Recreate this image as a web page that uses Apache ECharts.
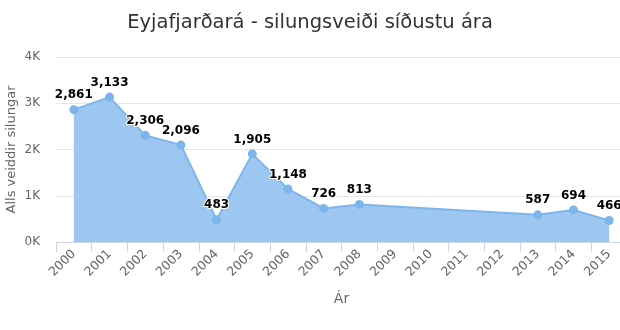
<!DOCTYPE html>
<html><head><meta charset="utf-8">
<script src="https://cdn.jsdelivr.net/npm/echarts@6/dist/echarts.min.js"></script>
<style>html,body{margin:0;padding:0;background:#fff}#c{width:620px;height:330px}</style>
</head><body><div id="c"></div>
<script>
const categories = ['2000','2001','2002','2003','2004','2005','2006','2007','2008','2009','2010','2011','2012','2013','2014','2015'];
const catches = [2861, 3133, 2306, 2096, 483, 1905, 1148, 726, 813, null, null, null, null, 587, 694, 466];
const yTicks = [0, 1000, 2000, 3000, 4000];
const titleText = 'Eyjafjarðará - silungsveiði síðustu ára';
const yName = 'Alls veiddir silungar';
const xName = 'Ár';

const font = 'DejaVu Sans';
const chart = echarts.init(document.getElementById('c'));
chart.setOption({
  animation: false,
  backgroundColor: '#fff',
  title: {
    text: titleText, left: 'center', top: 8,
    textStyle: { fontFamily: font, fontSize: 19.5, fontWeight: 'normal', color: '#333' }
  },
  grid: { left: 56, top: 57, width: 571, height: 185, containLabel: false, outerBoundsMode: 'none' },
  xAxis: {
    type: 'category', data: categories, boundaryGap: true,
    name: xName, nameLocation: 'middle', nameGap: 50, nameMoveOverlap: false,
    nameTextStyle: { fontFamily: font, fontSize: 14, color: '#666' },
    axisLine: { lineStyle: { color: '#ccd6eb' } },
    axisTick: { show: true, length: 10, lineStyle: { color: '#ccd6eb' } },
    axisLabel: { rotate: 45, fontFamily: font, fontSize: 12.5, color: '#666', margin: 10 },
    splitLine: { show: false }
  },
  yAxis: {
    type: 'value', min: yTicks[0], max: yTicks[yTicks.length - 1], interval: 1000,
    name: yName, nameLocation: 'middle', nameGap: 38, nameMoveOverlap: false,
    nameTextStyle: { fontFamily: font, fontSize: 13, color: '#666' },
    axisLine: { show: false }, axisTick: { show: false },
    axisLabel: { fontFamily: font, fontSize: 12, color: '#666', margin: 16,
      formatter: v => (v / 1000) + 'K' },
    splitLine: { lineStyle: { color: '#e6e6e6' } }
  },
  series: [{
    type: 'line', data: catches, connectNulls: true,
    symbol: 'circle', symbolSize: 9,
    itemStyle: { color: '#7cb5ec' },
    lineStyle: { color: '#7cb5ec', width: 2 },
    areaStyle: { color: '#9dc7f1', opacity: 1 },
    label: {
      show: true, position: 'top', distance: 4,
      fontFamily: font, fontSize: 12, fontWeight: 'bold', color: '#000',
      textBorderColor: '#fff', textBorderWidth: 2,
      formatter: p => p.value == null ? '' : p.value.toLocaleString('en-US')
    }
  }]
});
</script></body></html>
